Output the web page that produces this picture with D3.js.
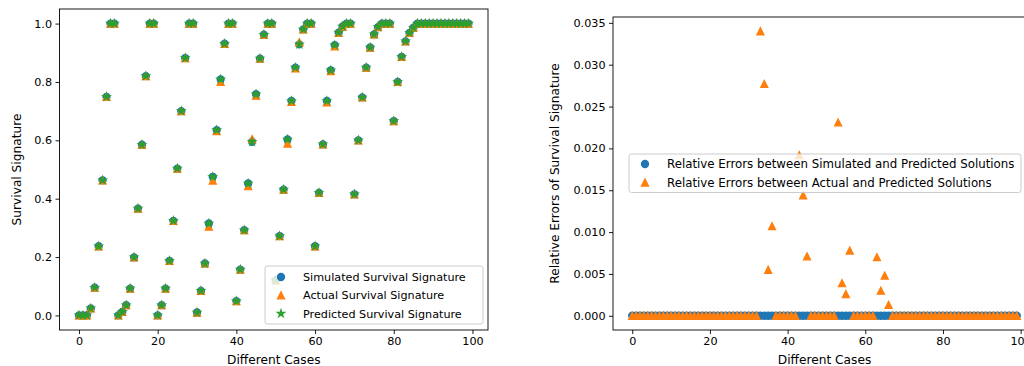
<!DOCTYPE html>
<html>
<head>
<meta charset="utf-8">
<script src="https://cdn.jsdelivr.net/npm/d3@7"></script>
<style>
  body { margin: 0; background: #fff; }
  svg text { font-family: "DejaVu Sans", sans-serif; fill: #000; }
</style>
</head>
<body>
<svg id="fig" width="1024" height="366"></svg>
<script>
// case index 0..99
const cases = d3.range(100);

const simulated = [
  0.000, 0.000, 0.000, 0.024, 0.095, 0.237, 0.463, 0.749, 1.000, 1.000,
  0.000, 0.012, 0.035, 0.092, 0.199, 0.366, 0.585, 0.820, 1.000, 1.000,
  0.000, 0.035, 0.092, 0.187, 0.324, 0.503, 0.700, 0.882, 1.000, 1.000,
  0.010, 0.084, 0.178, 0.315, 0.475, 0.635, 0.809, 0.931, 1.000, 1.000,
  0.049, 0.157, 0.292, 0.452, 0.595, 0.758, 0.880, 0.962, 1.000, 1.000,
  0.120, 0.272, 0.431, 0.603, 0.735, 0.849, 0.929, 0.980, 1.000, 1.000,
  0.237, 0.420, 0.586, 0.735, 0.840, 0.926, 0.969, 0.990, 1.000, 1.000,
  0.415, 0.600, 0.747, 0.849, 0.918, 0.963, 0.988, 1.000, 1.000, 1.000,
  0.666, 0.800, 0.886, 0.939, 0.968, 0.986, 1.000, 1.000, 1.000, 1.000,
  1.000, 1.000, 1.000, 1.000, 1.000, 1.000, 1.000, 1.000, 1.000, 1.000
];

const actual = [
  0.000, 0.000, 0.000, 0.024, 0.095, 0.237, 0.463, 0.749, 1.000, 1.000,
  0.000, 0.012, 0.035, 0.092, 0.199, 0.366, 0.585, 0.820, 1.000, 1.000,
  0.000, 0.035, 0.092, 0.187, 0.324, 0.503, 0.700, 0.882, 1.000, 1.000,
  0.010, 0.084, 0.178, 0.304, 0.462, 0.632, 0.800, 0.931, 1.000, 1.000,
  0.049, 0.157, 0.292, 0.443, 0.604, 0.753, 0.880, 0.962, 1.000, 1.000,
  0.120, 0.272, 0.431, 0.589, 0.732, 0.847, 0.936, 0.980, 1.000, 1.000,
  0.237, 0.420, 0.586, 0.730, 0.837, 0.922, 0.968, 0.990, 1.000, 1.000,
  0.415, 0.600, 0.747, 0.849, 0.918, 0.963, 0.988, 1.000, 1.000, 1.000,
  0.666, 0.800, 0.886, 0.939, 0.968, 0.986, 1.000, 1.000, 1.000, 1.000,
  1.000, 1.000, 1.000, 1.000, 1.000, 1.000, 1.000, 1.000, 1.000, 1.000
];

const predicted = [
  0.000, 0.000, 0.000, 0.024, 0.095, 0.237, 0.463, 0.749, 1.000, 1.000,
  0.000, 0.012, 0.035, 0.092, 0.199, 0.366, 0.585, 0.820, 1.000, 1.000,
  0.000, 0.035, 0.092, 0.187, 0.324, 0.503, 0.700, 0.882, 1.000, 1.000,
  0.010, 0.084, 0.178, 0.315, 0.475, 0.635, 0.809, 0.931, 1.000, 1.000,
  0.049, 0.157, 0.292, 0.452, 0.595, 0.758, 0.880, 0.962, 1.000, 1.000,
  0.120, 0.272, 0.431, 0.603, 0.735, 0.849, 0.929, 0.980, 1.000, 1.000,
  0.237, 0.420, 0.586, 0.735, 0.840, 0.926, 0.969, 0.990, 1.000, 1.000,
  0.415, 0.600, 0.747, 0.849, 0.918, 0.963, 0.988, 1.000, 1.000, 1.000,
  0.666, 0.800, 0.886, 0.939, 0.968, 0.986, 1.000, 1.000, 1.000, 1.000,
  1.000, 1.000, 1.000, 1.000, 1.000, 1.000, 1.000, 1.000, 1.000, 1.000
];

// relative errors against the predicted solution
const errSimulated = [
  0, 0, 0, 0, 0, 0, 0, 0, 0, 0,
  0, 0, 0, 0, 0, 0, 0, 0, 0, 0,
  0, 0, 0, 0, 0, 0, 0, 0, 0, 0,
  0, 0, 0, 0, 0, 0, 0, 0, 0, 0,
  0, 0, 0, 0, 0, 0, 0, 0, 0, 0,
  0, 0, 0, 0, 0, 0, 0, 0, 0, 0,
  0, 0, 0, 0, 0, 0, 0, 0, 0, 0,
  0, 0, 0, 0, 0, 0, 0, 0, 0, 0,
  0, 0, 0, 0, 0, 0, 0, 0, 0, 0,
  0, 0, 0, 0, 0, 0, 0, 0, 0, 0
];

const errActual = [
  0, 0, 0, 0, 0, 0, 0, 0, 0, 0,
  0, 0, 0, 0, 0, 0, 0, 0, 0, 0,
  0, 0, 0, 0, 0, 0, 0, 0, 0, 0,
  0, 0, 0, 0.0340, 0.0277, 0.0055, 0.0107, 0, 0, 0,
  0, 0, 0, 0.0192, 0.0144, 0.0071, 0, 0, 0, 0,
  0, 0, 0, 0.0231, 0.0039, 0.0026, 0.0078, 0, 0, 0,
  0, 0, 0, 0.0070, 0.0030, 0.0048, 0.0013, 0, 0, 0,
  0, 0, 0, 0, 0, 0, 0, 0, 0, 0,
  0, 0, 0, 0, 0, 0, 0, 0, 0, 0,
  0, 0, 0, 0, 0, 0, 0, 0, 0, 0
];

const xTicks = [0, 20, 40, 60, 80, 100];
const leftYTicks = [0, 0.2, 0.4, 0.6, 0.8, 1.0];
const rightYTicks = [0, 0.005, 0.010, 0.015, 0.020, 0.025, 0.030, 0.035];

const leftLegend = ["Simulated Survival Signature", "Actual Survival Signature", "Predicted Survival Signature"];
const rightLegend = ["Relative Errors between Simulated and Predicted Solutions",
                     "Relative Errors between Actual and Predicted Solutions"];

const BLUE = "#1f77b4", ORANGE = "#ff7f0e", GREEN = "#2ca02c";
const FONT = 11.2;        // tick labels
const LABEL_FONT = 12.2;  // axis labels
const R = 3.5;            // marker half size
const EDGE = 1.3;         // marker edge width

const svg = d3.select("#fig");

// matplotlib-like 5% padding
function padded(vals) {
  const [lo, hi] = d3.extent(vals);
  const p = (hi - lo) * 0.05;
  return [lo - p, hi + p];
}

// marker path generators (centered at 0,0)
function triPath(r) { return `M0,${-r}L${r},${r}L${-r},${r}Z`; }
function starPath(r) {
  const pts = [];
  for (let k = 0; k < 10; k++) {
    const a = Math.PI / 5 * k;
    const rr = k % 2 ? r * 0.381966 : r;
    pts.push([rr * Math.sin(a), -rr * Math.cos(a)]);
  }
  return "M" + pts.map(p => p.join(",")).join("L") + "Z";
}

function drawMarker(g, kind, color, x, y) {
  if (kind === "circle") {
    return g.append("circle").attr("cx", x).attr("cy", y).attr("r", R)
      .attr("fill", color).attr("stroke", color).attr("stroke-width", EDGE);
  }
  const d = kind === "tri" ? triPath(R) : starPath(R * 1.05);
  return g.append("path").attr("d", d).attr("transform", `translate(${x},${y})`)
    .attr("fill", color).attr("stroke", color).attr("stroke-width", EDGE)
    .attr("stroke-linejoin", "miter");
}

function drawPanel(opts) {
  const { left, right, top, bottom } = opts.box;
  const x = d3.scaleLinear().domain(padded(cases)).range([left, right]);
  const y = d3.scaleLinear().domain(opts.yDomain).range([bottom, top]);
  const g = svg.append("g");

  // points
  opts.series.forEach(s => {
    const sg = g.append("g");
    cases.forEach(i => drawMarker(sg, s.kind, s.color, x(i), y(s.values[i])));
  });

  // spines
  g.append("rect").attr("x", left).attr("y", top)
    .attr("width", right - left).attr("height", bottom - top)
    .attr("fill", "none").attr("stroke", "#000").attr("stroke-width", 0.9);

  const xa = g.append("g").attr("transform", `translate(0,${bottom})`)
    .call(d3.axisBottom(x).tickValues(xTicks).tickSize(4).tickPadding(3.5).tickFormat(d3.format("d")));
  const ya = g.append("g").attr("transform", `translate(${left},0)`)
    .call(d3.axisLeft(y).tickValues(opts.yTicks).tickSize(4).tickPadding(3.5).tickFormat(d3.format(opts.yFormat)));
  [xa, ya].forEach(a => {
    a.select(".domain").remove();
    a.selectAll("line").attr("stroke", "#000").attr("stroke-width", 0.9);
    a.selectAll("text").attr("font-size", FONT).attr("fill", "#000")
      .style("font-family", "'DejaVu Sans', sans-serif");
  });

  // axis labels
  g.append("text").attr("x", (left + right) / 2).attr("y", bottom + 33.5)
    .attr("text-anchor", "middle").attr("font-size", LABEL_FONT).text("Different Cases");
  g.append("text").attr("transform", `translate(${opts.yLabelX},${(top + bottom) / 2}) rotate(-90)`)
    .attr("text-anchor", "middle").attr("font-size", LABEL_FONT).text(opts.yLabel);

  // legend
  const L = opts.legend;
  const lg = g.append("g");
  lg.append("rect").attr("x", L.x).attr("y", L.y).attr("width", L.w).attr("height", L.h)
    .attr("rx", 2.5).attr("fill", "#fff").attr("fill-opacity", 0.8)
    .attr("stroke", "#ccc").attr("stroke-width", 1);
  opts.series.forEach((s, k) => {
    const cy = L.y + L.first + k * L.step;
    drawMarker(lg, s.kind, s.color, L.x + 16, cy);
    lg.append("text").attr("x", L.x + 38).attr("y", cy).attr("dy", "0.36em")
      .attr("font-size", L.font).text(L.labels[k]);
  });
}

drawPanel({
  box: { left: 59.5, right: 488, top: 9, bottom: 330 },
  yDomain: padded(simulated.concat(actual, predicted)),
  yTicks: leftYTicks, yFormat: ".1f",
  yLabel: "Survival Signature", yLabelX: 21,
  series: [
    { kind: "circle", color: BLUE, values: simulated },
    { kind: "tri", color: ORANGE, values: actual },
    { kind: "star", color: GREEN, values: predicted }
  ],
  legend: { x: 265, y: 266, w: 218, h: 58, first: 11, step: 18.3, labels: leftLegend, font: 11.2 }
});

drawPanel({
  box: { left: 613, right: 1036, top: 17, bottom: 330 },
  yDomain: padded(errSimulated.concat(errActual)),
  yTicks: rightYTicks, yFormat: ".3f",
  yLabel: "Relative Errors of Survival Signature", yLabelX: 559,
  series: [
    { kind: "circle", color: BLUE, values: errSimulated },
    { kind: "tri", color: ORANGE, values: errActual }
  ],
  legend: { x: 629, y: 154, w: 392, h: 38.5, first: 10, step: 18.5, labels: rightLegend, font: 11.8 }
});
</script>
</body>
</html>
